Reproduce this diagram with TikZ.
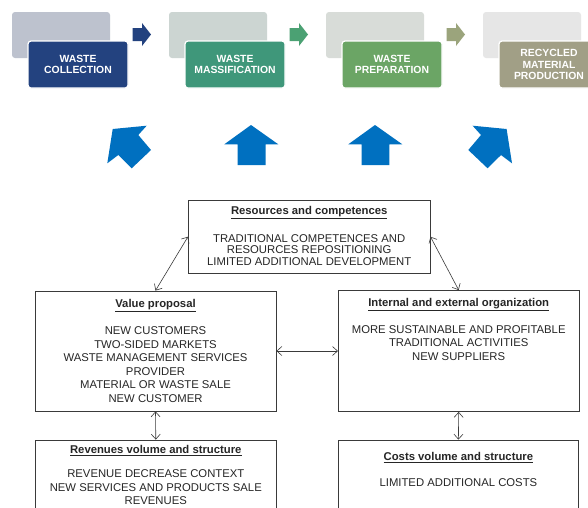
\documentclass[tikz,border=0pt]{standalone}
\usepackage{fontspec}
\setmainfont{Liberation Sans}
\usetikzlibrary{arrows.meta}
\definecolor{fA}{HTML}{23427F}
\definecolor{bA}{HTML}{BDC2CE}
\definecolor{aA}{HTML}{23427F}
\definecolor{fB}{HTML}{3F977A}
\definecolor{bB}{HTML}{CCD5D2}
\definecolor{aB}{HTML}{4BA173}
\definecolor{fC}{HTML}{6BA565}
\definecolor{bC}{HTML}{D8DCD8}
\definecolor{aC}{HTML}{9BA47C}
\definecolor{fD}{HTML}{A19F86}
\definecolor{bD}{HTML}{E6E6E6}
\definecolor{upblue}{HTML}{0070C0}
\definecolor{boxline}{HTML}{3A3A3A}
\definecolor{txtcol}{HTML}{262626}
\begin{document}
\begin{tikzpicture}[x=1pt,y=-1pt,
  backbox/.style={rectangle, rounded corners=3pt, minimum width=98pt, minimum height=46pt, inner sep=0pt},
  frontbox/.style={rectangle, rounded corners=3pt, minimum width=100pt, minimum height=47pt, inner sep=0pt,
    draw=white, line width=1.2pt, text=white, align=center, font=\bfseries\fontsize{10.4}{11.7}\selectfont},
  bigarrow/.style={fill=upblue, draw=none},
  plainbox/.style={rectangle, draw=boxline, line width=0.8pt, fill=white, inner sep=0pt},
  ttl/.style={inner sep=0pt, text=txtcol, font=\bfseries\fontsize{11.3}{13.5}\selectfont},
  body/.style={inner sep=0pt, text=txtcol, align=center, font=\fontsize{11.3}{13.5}\selectfont},
  bodytight/.style={body, font=\fontsize{11.3}{11.5}\selectfont},
  conn/.style={draw=boxline, line width=0.6pt, {Straight Barb[length=5pt,width=9pt]}-{Straight Barb[length=5pt,width=9pt]}}
]
\clip (0,0) rectangle (588,507);
\fill[white] (0,0) rectangle (588,507);

% top process row
\node[backbox, fill=bA] (b1) at (61,35) {};
\node[frontbox, fill=fA] (f1) at (78,64.5) {WASTE\\COLLECTION};
\node[backbox, fill=bB] (b2) at (218,35) {};
\node[frontbox, fill=fB] (f2) at (235,64.5) {WASTE\\MASSIFICATION};
\node[backbox, fill=bC] (b3) at (375,35) {};
\node[frontbox, fill=fC] (f3) at (392,64.5) {WASTE\\PREPARATION};
\node[backbox, fill=bD] (b4) at (532,35) {};
\node[frontbox, fill=fD] (f4) at (549,64.5) {RECYCLED\\MATERIAL\\PRODUCTION};

% chevron arrows
\fill[aA] (132.5,28) -- (142,28) -- (142,23) -- (151,34.5) -- (142,46) -- (142,41) -- (132.5,41) -- cycle;
\fill[aB] (289.5,28) -- (299,28) -- (299,23) -- (308,34.5) -- (299,46) -- (299,41) -- (289.5,41) -- cycle;
\fill[aC] (446.5,28) -- (456,28) -- (456,23) -- (465,34.5) -- (456,46) -- (456,41) -- (446.5,41) -- cycle;

% big blue arrows
\fill[bigarrow] (112.7,129) -- (146.7,125.7) -- (138.3,135) -- (151,150) -- (131.7,168.3) -- (118.3,155) -- (107.3,163.3) -- cycle;
\fill[bigarrow] (251,125) -- (278.3,144.3) -- (265.7,144.3) -- (265.7,165) -- (237.7,165) -- (237.7,144.3) -- (224.3,144.3) -- cycle;
\fill[bigarrow] (375,125) -- (402.3,144.3) -- (389.3,144.3) -- (389.3,165) -- (361.7,165) -- (361.7,144.3) -- (348.3,144.3) -- cycle;
\fill[bigarrow] (506.6,129) -- (472.6,125.7) -- (481,135) -- (468.3,150) -- (487.6,168.3) -- (501,155) -- (512,163.3) -- cycle;

% model boxes
\node[plainbox, minimum width=241.7pt, minimum height=73.3pt] (res) at (309.2,236.7) {};
\node[plainbox, minimum width=241pt, minimum height=120pt] (vp) at (155.5,351) {};
\node[plainbox, minimum width=240.7pt, minimum height=121pt] (int) at (458.7,351) {};
\node[plainbox, minimum width=241.7pt, minimum height=85pt] (rev) at (155.8,482.5) {};
\node[plainbox, minimum width=240.2pt, minimum height=85pt] (cost) at (458.4,482.5) {};

% texts
\node[ttl] (rest) at (309.2,212.5) {\underline{Resources and competences}};
\node[bodytight] (resb) at (309.2,249.8) {TRADITIONAL COMPETENCES AND\\RESOURCES REPOSITIONING\\LIMITED ADDITIONAL DEVELOPMENT};
\node[ttl] (vpt) at (155.5,305.5) {\underline{Value proposal}};
\node[body] (vpb) at (155.5,364.8) {NEW CUSTOMERS\\TWO-SIDED MARKETS\\WASTE MANAGEMENT SERVICES\\PROVIDER\\MATERIAL OR WASTE SALE\\NEW CUSTOMER};
\node[ttl] (intt) at (458.7,304.2) {\underline{Internal and external organization}};
\node[body] (intb) at (458.7,342.6) {MORE SUSTAINABLE AND PROFITABLE\\TRADITIONAL ACTIVITIES\\NEW SUPPLIERS};
\node[ttl] (revt) at (155.8,450.2) {\underline{Revenues volume and structure}};
\node[body] (revb) at (155.8,487.3) {REVENUE DECREASE CONTEXT\\NEW SERVICES AND PRODUCTS SALE\\REVENUES};
\node[ttl] (costt) at (458.4,457.5) {\underline{Costs volume and structure}};
\node[body] (costb) at (458.4,482.3) {LIMITED ADDITIONAL COSTS};

% connectors
\draw[conn] (res.west) -- (vp.north);
\draw[conn] (res.east) -- (int.north);
\draw[conn] (vp.east) -- (int.west);
\draw[conn] (vp.south) -- (rev.north);
\draw[conn] (int.south) -- (cost.north);
\end{tikzpicture}
\end{document}
